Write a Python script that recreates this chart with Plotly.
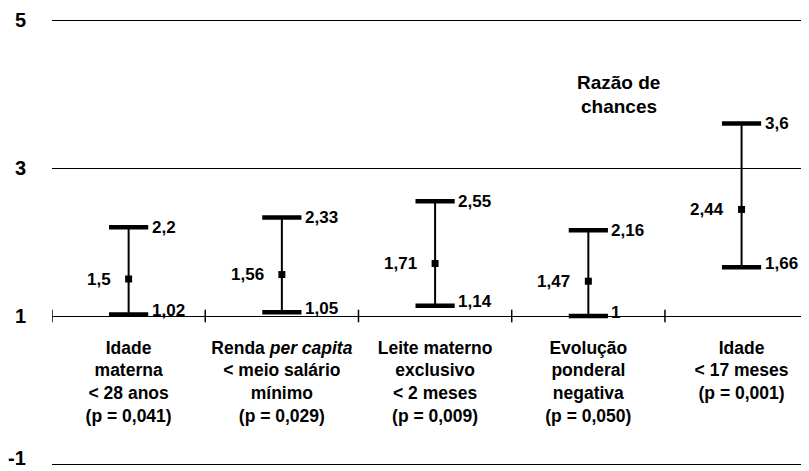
import plotly.graph_objects as go

categories = [
    "Idade<br>materna<br>< 28 anos<br>(p = 0,041)",
    "Renda <i>per capita</i><br>< meio salário<br>mínimo<br>(p = 0,029)",
    "Leite materno<br>exclusivo<br>< 2 meses<br>(p = 0,009)",
    "Evolução<br>ponderal<br>negativa<br>(p = 0,050)",
    "Idade<br>< 17 meses<br>(p = 0,001)",
]
odds = [1.5, 1.56, 1.71, 1.47, 2.44]
low = [1.02, 1.05, 1.14, 1.0, 1.66]
high = [2.2, 2.33, 2.55, 2.16, 3.6]
odds_txt = ["1,5", "1,56", "1,71", "1,47", "2,44"]
low_txt = ["1,02", "1,05", "1,14", "1", "1,66"]
high_txt = ["2,2", "2,33", "2,55", "2,16", "3,6"]
y_ticks = [-1, 1, 3, 5]
y_tick_text = ["-1", "1", "3", "5"]
boundaries = [-0.5, 0.5, 1.5, 2.5, 3.5]

FONT = "Liberation Sans, Arial, Helvetica, sans-serif"
xs = list(range(len(categories)))

# page body has an 8px margin; figure is sized/offset to compensate
Y_LO, Y_HI = -1 - 7 / 74, 5 + 7 / 74
axis_pos = (1 - Y_LO) / (Y_HI - Y_LO)

fig = go.Figure()
fig.add_trace(go.Scatter(
    x=xs, y=odds, mode="markers",
    marker=dict(symbol="square", size=7, color="black"),
    error_y=dict(type="data", symmetric=False,
                 array=[h - o for h, o in zip(high, odds)],
                 arrayminus=[o - l for o, l in zip(odds, low)],
                 thickness=2, width=0, color="black"),
    hoverinfo="skip", showlegend=False))
fig.add_trace(go.Scatter(
    x=xs + xs, y=high + low, mode="markers",
    marker=dict(symbol="line-ew", size=28, line=dict(width=4.5, color="black")),
    hoverinfo="skip", showlegend=False))
fig.add_trace(go.Scatter(
    x=boundaries, y=[1] * len(boundaries), mode="markers",
    marker=dict(symbol="line-ns", size=9, line=dict(width=1.5, color="black")),
    hoverinfo="skip", showlegend=False))

anns = []
for i in xs:
    anns.append(dict(x=i, y=high[i], text=high_txt[i], xanchor="left", yanchor="middle",
                     xshift=21, showarrow=False, font_size=17))
    anns.append(dict(x=i, y=low[i], text=low_txt[i], xanchor="left", yanchor="middle",
                     xshift=21, yshift=4, showarrow=False, font_size=17))
    anns.append(dict(x=i, y=odds[i], text=odds_txt[i], xanchor="right", yanchor="middle",
                     xshift=-16, showarrow=False, font_size=17))
anns.append(dict(x=3.2, y=4.0, text="Razão de", showarrow=False, yshift=12,
                 xanchor="center", yanchor="middle", font_size=19))
anns.append(dict(x=3.2, y=4.0, text="chances", showarrow=False, yshift=-12,
                 xanchor="center", yanchor="middle", font_size=19))
# y-axis tick labels (as annotations so the bottom one can be nudged into view)
for v, t in zip(y_ticks, y_tick_text):
    anns.append(dict(x=0, xref="paper", y=v, text=t, xanchor="right", yanchor="middle",
                     xshift=-24, yshift=6 if v == y_ticks[0] else 0,
                     showarrow=False, font_size=20))
for a in anns:
    a["font"] = dict(family=FONT, size=a.pop("font_size"), color="black", weight="bold")

fig.update_layout(
    width=801, height=463,
    margin=dict(l=44, r=0, t=5, b=0),
    paper_bgcolor="white", plot_bgcolor="white",
    showlegend=False,
    annotations=anns,
    xaxis=dict(range=[-0.5, 4.44], tickvals=xs, ticktext=categories,
               anchor="free", position=axis_pos, showgrid=False, zeroline=False,
               showline=False, ticks="", ticklabelstandoff=19, automargin=False,
               ticklabeloverflow="allow",
               tickfont=dict(family=FONT, size=17.5, color="black", weight="bold")),
    yaxis=dict(range=[Y_LO, Y_HI], tickvals=y_ticks, showticklabels=False,
               showgrid=True, gridcolor="black",
               gridwidth=1.2, zeroline=False, showline=False, ticks="",
               automargin=False),
)

fig.write_html("out.html")
